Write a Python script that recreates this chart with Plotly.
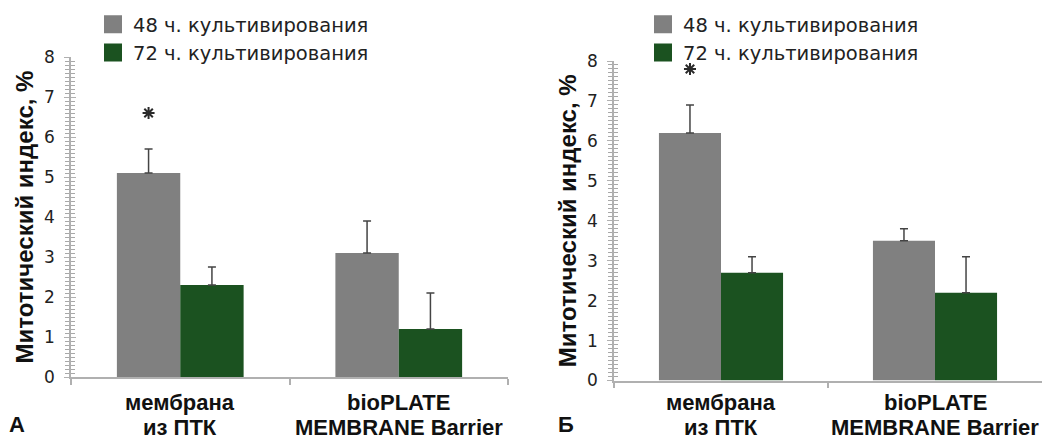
import plotly.graph_objects as go

# ---------------- data ----------------
categories = ["мембрана\nиз ПТК", "bioPLATE\nMEMBRANE Barrier"]
series_names = ["48 ч. культивирования", "72 ч. культивирования"]

# Panel A
a_48 = [5.1, 3.1]
a_48_err = [0.6, 0.8]
a_72 = [2.3, 1.2]
a_72_err = [0.45, 0.9]
a_star_48 = [6.6, None]       # significance asterisk level above 48 h bars
a_star_72 = [None, None]

# Panel Б
b_48 = [6.2, 3.5]
b_48_err = [0.7, 0.3]
b_72 = [2.7, 2.2]
b_72_err = [0.4, 0.9]
b_star_48 = [7.8, None]
b_star_72 = [None, None]

panel_letters = ["А", "Б"]
y_title = "Митотический индекс, %"
y_range = [0, 8]
y_step = 1

# ---------------- style ----------------
W, H = 1050, 439
OFF = 8                      # page body margin of the browser
FW, FH = W - OFF, H - OFF
GRAY = "#808080"
GREEN = "#1b5220"
AXIS = "#b0b0b0"
ERR = "#444444"
BARGAP = 0.42
TICK_FONT = dict(family="DejaVu Sans", size=17, color="#222")
LEG_FONT = dict(family="DejaVu Sans", size=19.5, color="#222")
BOLD = dict(family="Liberation Sans", size=22, color="#111")
TITLE_FONT = dict(family="Liberation Sans", size=24, color="#111", weight="bold")

def px_x(p):
    return (p - OFF) / FW

def px_y(p):
    return 1 - (p - OFF) / FH

panels = [
    dict(v48=a_48, e48=a_48_err, v72=a_72, e72=a_72_err,
         s48=a_star_48, s72=a_star_72,
         xd=[px_x(71), px_x(508)], yd=[px_y(377), px_y(57)],
         leg_x=px_x(93), letter_x=px_x(7)),
    dict(v48=b_48, e48=b_48_err, v72=b_72, e72=b_72_err,
         s48=b_star_48, s72=b_star_72,
         xd=[px_x(614), px_x(1042)], yd=[px_y(380.5), px_y(61)],
         leg_x=px_x(643), letter_x=px_x(556)),
]

fig = go.Figure()
annotations = []
layout_axes = {}

for i, p in enumerate(panels):
    n = i + 1
    xa = "x" if n == 1 else f"x{n}"
    ya = "y" if n == 1 else f"y{n}"
    leg = "legend" if n == 1 else f"legend{n}"
    for name, vals, errs, stars, col in [
            (series_names[0], p["v48"], p["e48"], p["s48"], GRAY),
            (series_names[1], p["v72"], p["e72"], p["s72"], GREEN)]:
        fig.add_trace(go.Bar(
            x=categories, y=vals, name=name, xaxis=xa, yaxis=ya,
            marker=dict(color=col, line=dict(color=col, width=0)),
            error_y=dict(type="data", array=errs, arrayminus=[0] * len(errs),
                         symmetric=False, color=ERR, thickness=1.5, width=4),
            showlegend=False, offsetgroup=name,
        ))
        # significance asterisks, grouped like the bars
        fig.add_trace(go.Scatter(
            x=categories, y=stars, mode="markers", xaxis=xa, yaxis=ya,
            marker=dict(symbol="asterisk-open", size=10, color="#2a2a2a",
                        line=dict(color="#2a2a2a", width=2)),
            offsetgroup=name, showlegend=False, hoverinfo="skip",
        ))
        # legend entry (larger square swatch)
        fig.add_trace(go.Scatter(
            x=[None], y=[None], mode="markers", name=name, xaxis=xa, yaxis=ya,
            marker=dict(symbol="square", size=16, color=col,
                        line=dict(color=col, width=2)),
            legend=leg, showlegend=True,
        ))

    xkey = "xaxis" if n == 1 else f"xaxis{n}"
    ykey = "yaxis" if n == 1 else f"yaxis{n}"
    layout_axes[xkey] = dict(
        domain=p["xd"], anchor=ya, type="category", range=[-0.5, 1.5],
        showline=True, linecolor=AXIS, linewidth=1.5, showgrid=False,
        ticks="outside", tickson="boundaries", ticklen=6, tickcolor=AXIS,
        tickwidth=1.5, showticklabels=False, zeroline=False, automargin=False,
    )
    layout_axes[ykey] = dict(
        domain=p["yd"], anchor=xa, range=y_range, tick0=y_range[0], dtick=y_step,
        showline=True, linecolor=AXIS, linewidth=1.5, showgrid=False,
        zeroline=False, ticks="outside", ticklen=5, tickcolor=AXIS,
        tickfont=TICK_FONT, ticklabelstandoff=6, automargin=False,
        minor=dict(dtick=y_step / 10, ticks="outside", ticklen=4,
                   tickcolor="#a8a8a8", tickwidth=1, showgrid=False),
        title=dict(text=y_title, font=TITLE_FONT, standoff=4),
    )
    # overlay axis to make ticks cross the axis line
    okey = f"yaxis{n + 2}"
    layout_axes[okey] = dict(
        domain=p["yd"], anchor=xa, overlaying=ya, range=y_range,
        tick0=y_range[0], dtick=y_step, automargin=False,
        showline=False, showgrid=False, zeroline=False,
        ticks="inside", ticklen=5, tickcolor=AXIS, showticklabels=False,
        minor=dict(dtick=y_step / 10, ticks="inside", ticklen=4,
                   tickcolor="#a8a8a8", tickwidth=1, showgrid=False),
    )
    fig.add_trace(go.Scatter(x=[None], y=[None], xaxis=xa, yaxis=f"y{n + 2}",
                             showlegend=False, hoverinfo="skip"))

    # legend
    layout_axes[leg] = dict(x=p["leg_x"], y=px_y(5), xanchor="left",
                            yanchor="top", font=LEG_FONT,
                            bgcolor="rgba(0,0,0,0)", itemsizing="trace",
                            tracegroupgap=0)

    # category labels (two lines each)
    for cat in categories:
        for li, txt in enumerate(cat.split("\n")):
            annotations.append(dict(
                x=cat, xref=xa, y=px_y(402 + 25 * li), yref="paper",
                text=f"<b>{txt}</b>", showarrow=False, font=BOLD,
                xanchor="center", yanchor="middle",
            ))

    # panel letter
    annotations.append(dict(
        x=p["letter_x"], xref="paper", y=px_y(439), yref="paper",
        text=f"<b>{panel_letters[i]}</b>", showarrow=False, font=BOLD,
        xanchor="left", yanchor="bottom",
    ))

fig.update_layout(
    width=FW, height=FH, margin=dict(l=0, r=0, t=0, b=0, autoexpand=False),
    paper_bgcolor="white", plot_bgcolor="white",
    barmode="group", bargap=BARGAP, bargroupgap=0,
    scattermode="group", scattergap=BARGAP,
    annotations=annotations, **layout_axes,
)

fig.write_html("out.html")
